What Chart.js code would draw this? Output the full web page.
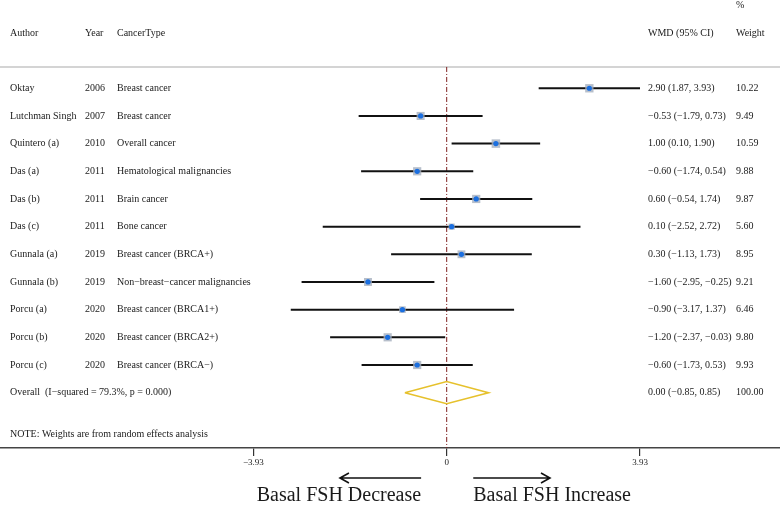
<!DOCTYPE html>
<html>
<head>
<meta charset="utf-8">
<script src="https://cdn.jsdelivr.net/npm/chart.js@4"></script>
<style>
  html, body { margin: 0; padding: 0; background: #fff; }
  #wrap { width: 780px; height: 505px; position: relative; }
</style>
</head>
<body>
<div id="wrap"><canvas id="forest"></canvas></div>
<script>
// study rows
const authors = ['Oktay', 'Lutchman Singh', 'Quintero (a)', 'Das (a)', 'Das (b)', 'Das (c)',
  'Gunnala (a)', 'Gunnala (b)', 'Porcu (a)', 'Porcu (b)', 'Porcu (c)'];
const years = ['2006', '2007', '2010', '2011', '2011', '2011', '2019', '2019', '2020', '2020', '2020'];
const cancerTypes = ['Breast cancer', 'Breast cancer', 'Overall cancer', 'Hematological malignancies',
  'Brain cancer', 'Bone cancer', 'Breast cancer (BRCA+)', 'Non\u2212breast\u2212cancer malignancies',
  'Breast cancer (BRCA1+)', 'Breast cancer (BRCA2+)', 'Breast cancer (BRCA\u2212)'];
const wmd = [2.90, -0.53, 1.00, -0.60, 0.60, 0.10, 0.30, -1.60, -0.90, -1.20, -0.60];
const lower = [1.87, -1.79, 0.10, -1.74, -0.54, -2.52, -1.13, -2.95, -3.17, -2.37, -1.73];
const upper = [3.93, 0.73, 1.90, 0.54, 1.74, 2.72, 1.73, -0.25, 1.37, -0.03, 0.53];
const weights = [10.22, 9.49, 10.59, 9.88, 9.87, 5.60, 8.95, 9.21, 6.46, 9.80, 9.93];

// pooled estimate
const overallLabel = 'Overall  (I\u2212squared = 79.3%, p = 0.000)';
const overallEst = 0.00;
const overallLow = -0.85;
const overallHigh = 0.85;
const overallWeight = 100.00;

// x axis
const xTicks = [-3.93, 0, 3.93];
const xMin = -9.081;
const xMax = 6.776;

const overallRow = authors.length + 1;
const fmt = v => (v < 0 ? '\u2212' : '') + Math.abs(v).toFixed(2);
const ciText = i => fmt(wmd[i]) + ' (' + fmt(lower[i]) + ', ' + fmt(upper[i]) + ')';

const ciSets = authors.map((a, i) => ({
  type: 'line',
  data: [{ x: lower[i], y: i + 1 }, { x: upper[i], y: i + 1 }],
  borderColor: '#111',
  borderWidth: 2,
  pointRadius: 0,
  order: 3
}));

const forestText = {
  id: 'forestText',
  beforeDatasetsDraw(chart) {
    const { ctx, scales: { y } } = chart;
    ctx.save();
    ctx.strokeStyle = '#d4d4d4';
    ctx.lineWidth = 2;
    const sy = y.getPixelForValue(0.23);
    ctx.beginPath();
    ctx.moveTo(0, sy);
    ctx.lineTo(chart.width, sy);
    ctx.stroke();
    ctx.restore();
  },
  afterDraw(chart) {
    const { ctx, scales: { x, y } } = chart;
    ctx.save();
    ctx.fillStyle = '#1a1a1a';
    ctx.font = '10px "Liberation Serif", "Times New Roman", serif';
    ctx.textBaseline = 'middle';
    const colA = 10, colY = 85, colC = 117, colW = 648, colP = 736;

    let hy = y.getPixelForValue(-1);
    ctx.fillText('Author', colA, hy);
    ctx.fillText('Year', colY, hy);
    ctx.fillText('CancerType', colC, hy);
    ctx.fillText('WMD (95% CI)', colW, hy);
    ctx.fillText('Weight', colP, hy);
    ctx.fillText('%', colP, y.getPixelForValue(-2));

    authors.forEach((a, i) => {
      const py = y.getPixelForValue(i + 1);
      ctx.fillText(a, colA, py);
      ctx.fillText(years[i], colY, py);
      ctx.fillText(cancerTypes[i], colC, py);
      ctx.fillText(ciText(i), colW, py);
      ctx.fillText(weights[i].toFixed(2), colP, py);
    });

    const oy = y.getPixelForValue(overallRow);
    ctx.fillText(overallLabel, colA, oy);
    ctx.fillText(fmt(overallEst) + ' (' + fmt(overallLow) + ', ' + fmt(overallHigh) + ')', colW, oy);
    ctx.fillText(overallWeight.toFixed(2), colP, oy);
    ctx.fillText('NOTE: Weights are from random effects analysis', colA, y.getPixelForValue(13.5));

    // direction arrows
    const ay = 478;
    ctx.strokeStyle = '#111';
    ctx.lineWidth = 1.6;
    const arrow = (x1, x2) => {
      const d = x2 > x1 ? 1 : -1;
      ctx.beginPath();
      ctx.moveTo(x1, ay);
      ctx.lineTo(x2, ay);
      ctx.moveTo(x2 - d * 9, ay - 5);
      ctx.lineTo(x2, ay);
      ctx.lineTo(x2 - d * 9, ay + 5);
      ctx.stroke();
    };
    arrow(x.getPixelForValue(-0.52), x.getPixelForValue(-2.17));
    arrow(x.getPixelForValue(0.54), x.getPixelForValue(2.1));

    ctx.font = '20px "Liberation Serif", "Times New Roman", serif';
    ctx.textBaseline = 'alphabetic';
    ctx.textAlign = 'right';
    ctx.fillText('Basal FSH Decrease', x.getPixelForValue(-0.52), 501);
    ctx.textAlign = 'left';
    ctx.fillText('Basal FSH Increase', x.getPixelForValue(0.54), 501);
    ctx.restore();
  }
};

new Chart(document.getElementById('forest'), {
  type: 'scatter',
  data: {
    datasets: [
      {
        data: wmd.map((v, i) => ({ x: v, y: i + 1 })),
        pointStyle: 'circle',
        pointRadius: 2.6,
        backgroundColor: '#1b6fe0',
        borderWidth: 0,
        order: 1
      },
      {
        data: wmd.map((v, i) => ({ x: v, y: i + 1 })),
        pointStyle: 'rect',
        pointRadius: ctx => 1.85 * Math.sqrt(weights[ctx.dataIndex] || 0),
        backgroundColor: 'rgba(165,175,190,0.8)',
        borderWidth: 0,
        order: 2
      },
      ...ciSets,
      {
        type: 'line',
        data: [
          { x: overallLow, y: overallRow },
          { x: overallEst, y: overallRow - 0.4 },
          { x: overallHigh, y: overallRow },
          { x: overallEst, y: overallRow + 0.4 },
          { x: overallLow, y: overallRow }
        ],
        borderColor: '#e6c12c',
        borderWidth: 1.6,
        pointRadius: 0,
        order: 4
      },
      {
        type: 'line',
        data: [{ x: 0, y: 0.23 }, { x: 0, y: 14 }],
        borderColor: '#7d1d1d',
        borderWidth: 1,
        borderDash: [5, 2, 1, 2],
        pointRadius: 0,
        order: 5
      }
    ]
  },
  options: {
    responsive: true,
    maintainAspectRatio: false,
    animation: false,
    layout: { padding: 0, autoPadding: false },
    plugins: { legend: { display: false }, tooltip: { enabled: false } },
    scales: {
      x: {
        type: 'linear',
        min: xMin,
        max: xMax,
        afterBuildTicks: s => { s.ticks = xTicks.map(v => ({ value: v })); },
        afterFit: s => { s.height = 57; },
        grid: { drawOnChartArea: false, drawTicks: true, tickLength: 8, color: '#333', lineWidth: 1.2 },
        border: { display: true, color: '#444', width: 1.5 },
        ticks: {
          padding: 1,
          color: '#222',
          maxRotation: 0,
          autoSkip: false,
          font: { family: '"Liberation Serif", serif', size: 9 },
          callback: v => v === 0 ? '0' : fmt(v)
        }
      },
      y: {
        type: 'linear',
        min: -2.19,
        max: 14,
        reverse: true,
        display: false
      }
    }
  },
  plugins: [forestText]
});
</script>
</body>
</html>
